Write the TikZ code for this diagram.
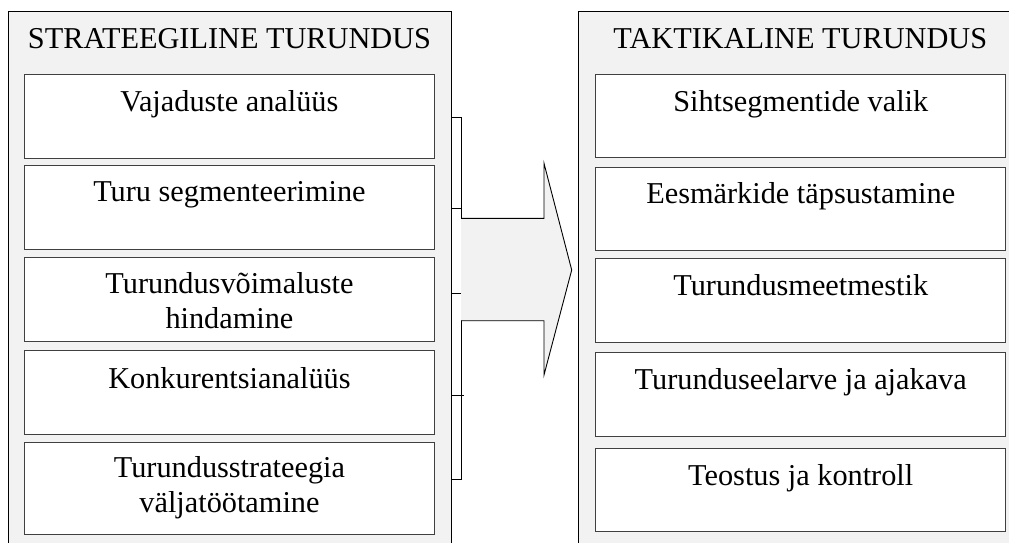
\documentclass[tikz,border=0pt]{standalone}
\usepackage{fontspec}
\setmainfont{Liberation Serif}
\definecolor{panelgray}{HTML}{F2F2F2}
\definecolor{edgegray}{HTML}{404040}
\begin{document}
\begin{tikzpicture}[x=1pt,y=-1pt,
  panel/.style={draw=black, fill=panelgray, line width=0.9pt},
  itembox/.style={draw=edgegray, fill=white, line width=0.9pt, anchor=north west,
    inner sep=0pt, minimum width=410pt},
  itemtext/.style={font=\fontsize{30.3}{35}\selectfont, anchor=base, align=center, inner sep=0pt},
  headtext/.style={font=\fontsize{30.3}{35}\selectfont, anchor=base, inner sep=0pt},
  bracket/.style={draw=black, fill=white, line width=0.9pt},
  bigarrow/.style={draw=black, fill=panelgray, line width=0.9pt, line join=miter},
]
\useasboundingbox (0,0) rectangle (1009,542);
\clip (0,0) rectangle (1009,542);

% ---- left panel: strategic marketing ----
\node[panel, anchor=north west, minimum width=443pt, minimum height=560pt, inner sep=0pt] (lp) at (8,11) {};
\node[headtext] (lh) at (229.5,48.3) {STRATEEGILINE TURUNDUS};

\node[itembox, minimum height=84pt]   (s1) at (24,74)    {};
\node[itembox, minimum height=83.7pt] (s2) at (24,165.3) {};
\node[itembox, minimum height=84pt]   (s3) at (24,256.7) {};
\node[itembox, minimum height=83.7pt] (s4) at (24,350)   {};
\node[itembox, minimum height=92pt]   (s5) at (24,441.7) {};

% single-line labels sit on their baseline; two-line labels are placed by their last line
\node[itemtext] (s1t) at ([yshift=-37pt]s1.north) {Vajaduste analüüs};
\node[itemtext] (s2t) at ([yshift=-36.4pt]s2.north) {Turu segmenteerimine};
\node[itemtext] (s3t) at ([yshift=-71.6pt]s3.north) {Turundusvõimaluste\\hindamine};
\node[itemtext] (s4t) at ([yshift=-38.3pt]s4.north) {Konkurentsianalüüs};
\node[itemtext] (s5t) at ([yshift=-71pt]s5.north) {Turundusstrateegia\\väljatöötamine};

% ---- bracket joining the strategic steps ----
\coordinate (bt) at (lp.east |- 0,117);
\coordinate (bb) at (lp.east |- 0,479);
\draw[bracket] (bt) -- ++(10,0) |- (bb) -- cycle;
\draw[line width=0.9pt] (bt |- 0,208) -- ++(10,0);
\draw[line width=0.9pt] (bt |- 0,293) -- ++(10,0);
\draw[line width=0.9pt] (bt |- 0,395) -- ++(12,0);

% ---- block arrow ----
\draw[bigarrow] (461,218.3) -- (544,218.3) -- (544,163.3) -- (571.7,270)
  -- (544,375) -- (544,320.7) -- (461,320.7);

% ---- right panel: tactical marketing ----
\node[panel, anchor=north west, minimum width=447pt, minimum height=560pt, inner sep=0pt] (rp) at (578,11) {};
\node[headtext] (rh) at (800.3,48.3) {TAKTIKALINE TURUNDUS};

\node[itembox, minimum height=83.3pt] (t1) at (595.3,74)    {};
\node[itembox, minimum height=83pt]   (t2) at (595.3,167.3) {};
\node[itembox, minimum height=84pt]   (t3) at (595.3,258.3) {};
\node[itembox, minimum height=83.7pt] (t4) at (595.3,352.3) {};
\node[itembox, minimum height=83.3pt] (t5) at (595.3,447.7) {};

\node[itemtext] (t1t) at ([yshift=-37pt]t1.north) {Sihtsegmentide valik};
\node[itemtext] (t2t) at ([yshift=-36pt]t2.north) {Eesmärkide täpsustamine};
\node[itemtext] (t3t) at ([yshift=-37.4pt]t3.north) {Turundusmeetmestik};
\node[itemtext] (t4t) at ([yshift=-37pt]t4.north) {Turunduseelarve ja ajakava};
\node[itemtext] (t5t) at ([yshift=-37.3pt]t5.north) {Teostus ja kontroll};
\end{tikzpicture}
\end{document}
